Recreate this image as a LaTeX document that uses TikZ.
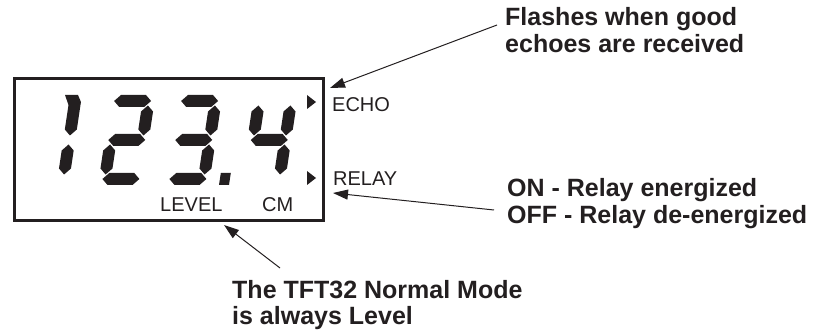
\documentclass[tikz,border=0pt]{standalone}
\usepackage{fontspec}
\setmainfont{Liberation Sans}
\usetikzlibrary{arrows.meta,calc}
\definecolor{ink}{HTML}{231F20}
\newcommand\dighseg[1]{\fill[seg] (3.5,#1) -- (9.5,#1+6) -- (34.5,#1+6) -- (40.5,#1) -- (34.5,#1-6) -- (9.5,#1-6) -- cycle;}
\newcommand\digvseg[3]{\fill[seg] (#1,#2+4.5) -- (#1+6,#2+10.5) -- (#1+6,#3-10.5) -- (#1,#3-4.5) -- (#1-6,#3-10.5) -- (#1-6,#2+10.5) -- cycle;}
\tikzset{
  seg/.style={fill=ink},
  digit/.style={xslant=0.15},
  small/.style={font=\fontsize{20}{22}\selectfont, text=ink, inner sep=0pt, anchor=base west},
  note/.style={font=\bfseries\fontsize{25}{27}\selectfont, text=ink, inner sep=0pt, align=left, anchor=base west},
  callout/.style={draw=ink, line width=1pt, -{Triangle[length=15pt,width=10pt]}},
  indicator/.style={fill=ink},
}
\begin{document}
\begin{tikzpicture}[x=1pt,y=1pt]
\useasboundingbox (0,0) rectangle (820,335);
% display frame
\node[draw=ink, line width=3pt, minimum width=309pt, minimum height=142pt, inner sep=0pt] (disp) at (169,185.5) {};
% digit 1
\begin{scope}[shift={(24.5,150)}, digit]
  \fill[seg] (38,49.5) -- (44,55.5) -- (44,83) -- (40,90) -- (27,90) -- (32,80) -- (32,55.5) -- cycle;
  \digvseg{38}{6}{45}
\end{scope}
% digit 2
\begin{scope}[shift={(98,150)}, digit]
  \dighseg{84}\dighseg{45}\dighseg{6}
  \digvseg{38}{45}{84}\digvseg{6}{6}{45}
\end{scope}
% digit 3 and decimal point
\begin{scope}[shift={(165,150)}, digit]
  \dighseg{84}\dighseg{45}\dighseg{6}
  \digvseg{38}{45}{84}\digvseg{38}{6}{45}
  \fill[seg] (54,0) rectangle (64,12);
\end{scope}
% digit 4
\begin{scope}[shift={(240.5,150)}, digit]
  \dighseg{45}
  \digvseg{6}{45}{84}\digvseg{38}{45}{84}\digvseg{38}{6}{45}
\end{scope}
% indicators
\fill[indicator] (307,240) -- (307,226) -- (316,233) -- cycle;
\fill[indicator] (307,164) -- (307,150) -- (316,157) -- cycle;
% small labels
\node[small] (echo) at (332,223) {ECHO};
\node[small] (relay) at (333,149) {RELAY};
\node[small] (level) at (160,123) {LEVEL};
\node[small] (cm) at (262,123) {CM};
% notes (anchored at the baseline of the last line)
\node[note] (fl) at (505,282) {Flashes when good\\echoes are received};
\node[note] (on) at (507,111) {ON - Relay energized\\OFF - Relay de-energized};
\node[note] (tft) at (232,10) {The TFT32 Normal Mode\\is always Level};
% connector ends
\coordinate (s1) at (497,310);
\coordinate (t1) at (330,247);
\coordinate (s2) at (494,125);
\coordinate (t2) at (333,142);
\coordinate (s3) at (280,67);
\coordinate (t3) at (224,110);
\draw[callout] (s1) -- (t1);
\draw[callout] (s2) -- (t2);
\draw[callout] (s3) -- (t3);
\end{tikzpicture}
\end{document}
